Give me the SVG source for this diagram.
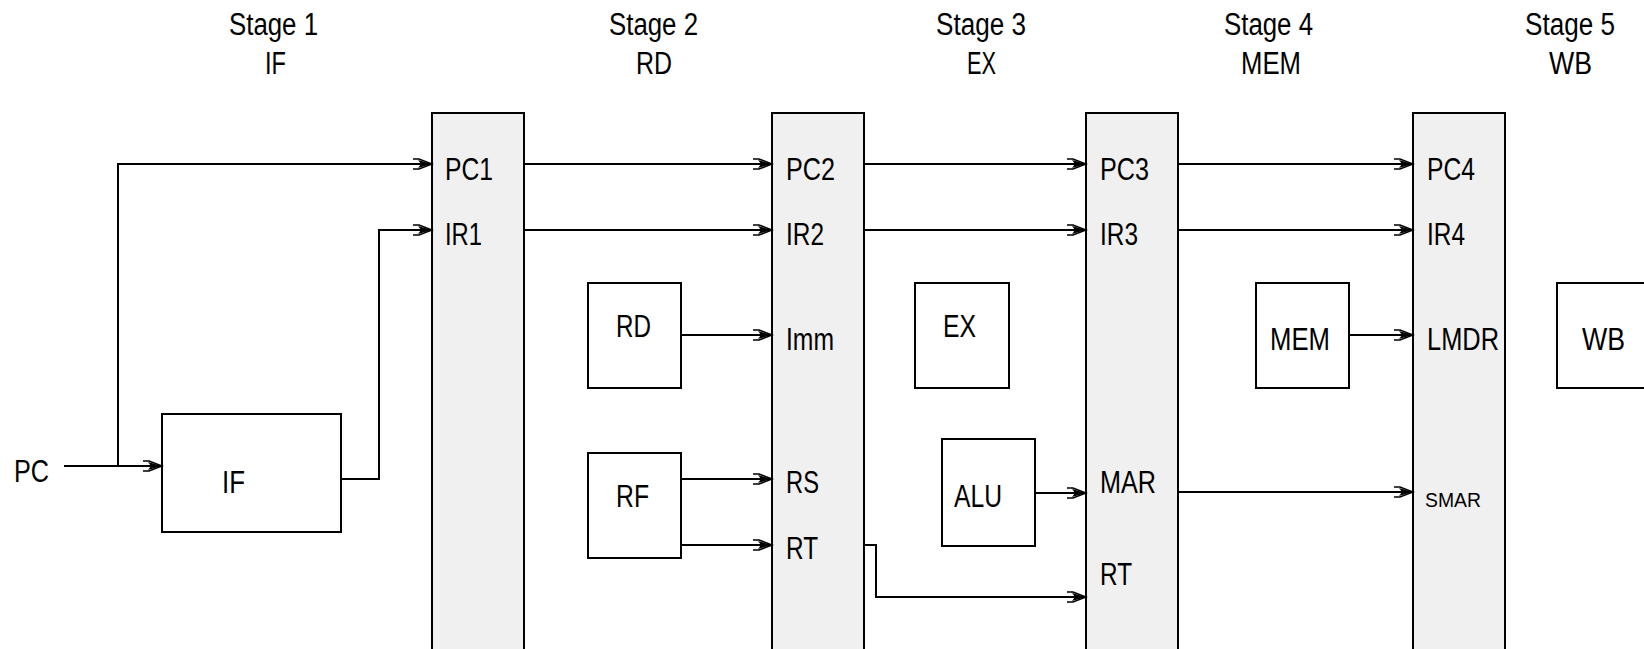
<svg xmlns="http://www.w3.org/2000/svg" width="1644" height="649" viewBox="0 0 1644 649">
<style>
text{font-family:"Liberation Sans",Arial,sans-serif;font-size:31px;fill:#000;}
.sm{font-size:20px;}
.latch{fill:#f0f0f0;stroke:#000;stroke-width:2;}
.box{fill:#fff;stroke:#000;stroke-width:2;}
.conn path{fill:none;stroke:#000;stroke-width:2;marker-end:url(#arr);}
</style>
<defs>
<marker id="arr" markerUnits="userSpaceOnUse" markerWidth="24" markerHeight="14" viewBox="-21 -7 22 14" refX="0" refY="0" orient="auto">
<path d="M-19,-5 L-13,-5 L0,0 L-13,5 L-19,5" fill="none" stroke="#000" stroke-width="1.5"/>
<path d="M-14,-4 L0,0 L-14,4 L-11,0 Z" fill="#000"/>
</marker>
</defs>
<g id="titles">
<text x="229" y="35" textLength="89" lengthAdjust="spacingAndGlyphs">Stage 1</text>
<text x="265" y="74" textLength="21" lengthAdjust="spacingAndGlyphs">IF</text>
<text x="609" y="35" textLength="89" lengthAdjust="spacingAndGlyphs">Stage 2</text>
<text x="636" y="74" textLength="36" lengthAdjust="spacingAndGlyphs">RD</text>
<text x="936" y="35" textLength="90" lengthAdjust="spacingAndGlyphs">Stage 3</text>
<text x="967" y="74" textLength="29" lengthAdjust="spacingAndGlyphs">EX</text>
<text x="1224" y="35" textLength="89" lengthAdjust="spacingAndGlyphs">Stage 4</text>
<text x="1241" y="74" textLength="60" lengthAdjust="spacingAndGlyphs">MEM</text>
<text x="1525" y="35" textLength="90" lengthAdjust="spacingAndGlyphs">Stage 5</text>
<text x="1549" y="74" textLength="43" lengthAdjust="spacingAndGlyphs">WB</text>
</g>
<g id="pc-input">
<text x="14" y="482" textLength="35" lengthAdjust="spacingAndGlyphs">PC</text>
</g>
<g id="latch1">
<rect class="latch" x="432" y="113" width="92" height="560"/>
<text x="445" y="180" textLength="48" lengthAdjust="spacingAndGlyphs">PC1</text>
<text x="445" y="245" textLength="37" lengthAdjust="spacingAndGlyphs">IR1</text>
</g>
<g id="latch2">
<rect class="latch" x="772" y="113" width="92" height="560"/>
<text x="786" y="180" textLength="49" lengthAdjust="spacingAndGlyphs">PC2</text>
<text x="786" y="245" textLength="38" lengthAdjust="spacingAndGlyphs">IR2</text>
<text x="786" y="350" textLength="48" lengthAdjust="spacingAndGlyphs">Imm</text>
<text x="786" y="493" textLength="33" lengthAdjust="spacingAndGlyphs">RS</text>
<text x="786" y="559" textLength="32" lengthAdjust="spacingAndGlyphs">RT</text>
</g>
<g id="latch3">
<rect class="latch" x="1086" y="113" width="92" height="560"/>
<text x="1100" y="180" textLength="49" lengthAdjust="spacingAndGlyphs">PC3</text>
<text x="1100" y="245" textLength="38" lengthAdjust="spacingAndGlyphs">IR3</text>
<text x="1100" y="493" textLength="56" lengthAdjust="spacingAndGlyphs">MAR</text>
<text x="1100" y="585" textLength="32" lengthAdjust="spacingAndGlyphs">RT</text>
</g>
<g id="latch4">
<rect class="latch" x="1413" y="113" width="92" height="560"/>
<text x="1427" y="180" textLength="48" lengthAdjust="spacingAndGlyphs">PC4</text>
<text x="1427" y="245" textLength="38" lengthAdjust="spacingAndGlyphs">IR4</text>
<text x="1427" y="350" textLength="72" lengthAdjust="spacingAndGlyphs">LMDR</text>
<text class="sm" x="1425" y="507" textLength="56" lengthAdjust="spacingAndGlyphs">SMAR</text>
</g>
<g id="if-box">
<rect class="box" x="162" y="414" width="179" height="118"/>
<text x="222" y="493" textLength="23" lengthAdjust="spacingAndGlyphs">IF</text>
</g>
<g id="rd-box">
<rect class="box" x="588" y="283" width="93" height="105"/>
<text x="616" y="337" textLength="35" lengthAdjust="spacingAndGlyphs">RD</text>
</g>
<g id="rf-box">
<rect class="box" x="588" y="453" width="93" height="105"/>
<text x="616" y="507" textLength="33" lengthAdjust="spacingAndGlyphs">RF</text>
</g>
<g id="ex-box">
<rect class="box" x="915" y="283" width="94" height="105"/>
<text x="943" y="337" textLength="33" lengthAdjust="spacingAndGlyphs">EX</text>
</g>
<g id="alu-box">
<rect class="box" x="942" y="439" width="93" height="107"/>
<text x="954" y="507" textLength="48" lengthAdjust="spacingAndGlyphs">ALU</text>
</g>
<g id="mem-box">
<rect class="box" x="1256" y="283" width="93" height="105"/>
<text x="1270" y="350" textLength="60" lengthAdjust="spacingAndGlyphs">MEM</text>
</g>
<g id="wb-box">
<rect class="box" x="1557" y="283" width="100" height="105"/>
<text x="1582" y="350" textLength="43" lengthAdjust="spacingAndGlyphs">WB</text>
</g>
<g class="conn" id="connectors">
<path d="M64,466 H162"/>
<path d="M118,466 V164 H432"/>
<path d="M341,479 H379 V230 H432"/>
<path d="M524,164 H772"/>
<path d="M524,230 H772"/>
<path d="M681,335 H772"/>
<path d="M681,479 H772"/>
<path d="M681,545 H772"/>
<path d="M864,164 H1086"/>
<path d="M864,230 H1086"/>
<path d="M864,545 H876 V597 H1086"/>
<path d="M1035,493 H1086"/>
<path d="M1178,164 H1413"/>
<path d="M1178,230 H1413"/>
<path d="M1349,335 H1413"/>
<path d="M1178,492 H1413"/>
</g>
</svg>
